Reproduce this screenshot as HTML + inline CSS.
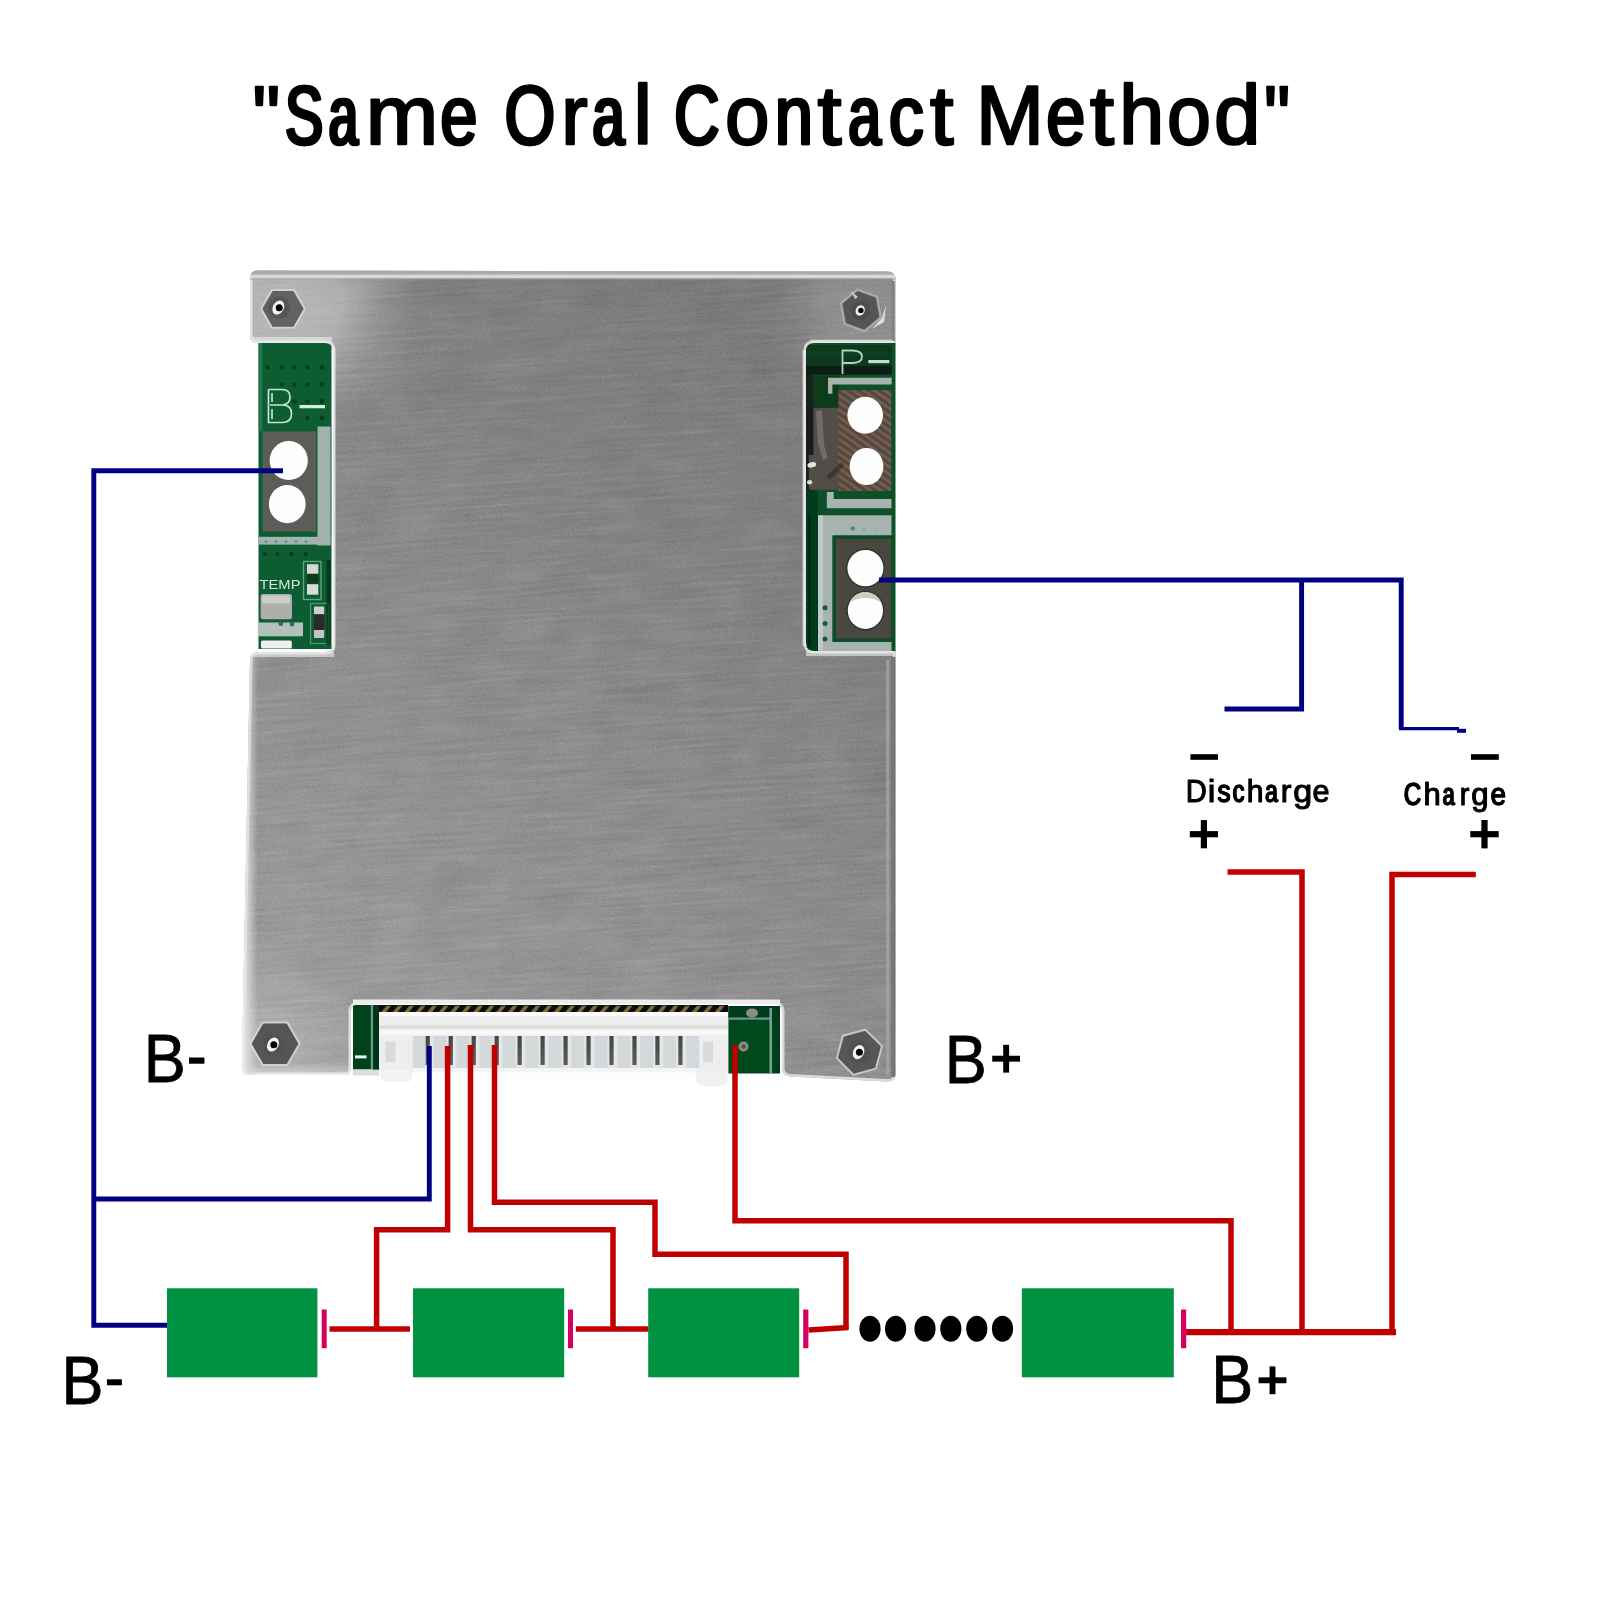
<!DOCTYPE html>
<html>
<head>
<meta charset="utf-8">
<title>Same Oral Contact Method</title>
<style>
html,body{margin:0;padding:0;background:#fff;}
body{width:1600px;height:1600px;overflow:hidden;font-family:"Liberation Sans",sans-serif;}
svg{display:block;position:absolute;left:0;top:0;}
text{font-family:"Liberation Sans",sans-serif;fill:#000;}
</style>
</head>
<body>
<svg width="1600" height="1600" viewBox="0 0 1600 1600">
<desc>"Same Oral Contact Method" wiring diagram: BMS board with B-, P-, B+, Discharge and Charge terminals, battery cells in series.</desc>
<defs>
  <linearGradient id="metalV" x1="0" y1="0" x2="0" y2="1">
    <stop offset="0" stop-color="#7d7d7d"/>
    <stop offset="1" stop-color="#9b9b9b"/>
  </linearGradient>
  <linearGradient id="botFade" x1="0" y1="0" x2="0" y2="1"><stop offset="0" stop-color="#fff" stop-opacity="0"/><stop offset="1" stop-color="#fff" stop-opacity="0.45"/></linearGradient>
  <linearGradient id="bevL" x1="0" y1="0" x2="1" y2="0"><stop offset="0" stop-color="#f4f4f4" stop-opacity="0.95"/><stop offset="0.45" stop-color="#e0e0e0" stop-opacity="0.7"/><stop offset="1" stop-color="#d0d0d0" stop-opacity="0"/></linearGradient>
  <radialGradient id="tabL" gradientUnits="userSpaceOnUse" cx="286" cy="304" r="135">
    <stop offset="0" stop-color="#fff" stop-opacity="0.42"/>
    <stop offset="0.4" stop-color="#fff" stop-opacity="0.36"/>
    <stop offset="0.75" stop-color="#fff" stop-opacity="0.10"/>
    <stop offset="1" stop-color="#fff" stop-opacity="0"/>
  </radialGradient>
  <radialGradient id="tabR" gradientUnits="userSpaceOnUse" cx="862" cy="306" r="100">
    <stop offset="0" stop-color="#fff" stop-opacity="0.20"/>
    <stop offset="0.4" stop-color="#fff" stop-opacity="0.16"/>
    <stop offset="0.75" stop-color="#fff" stop-opacity="0.05"/>
    <stop offset="1" stop-color="#fff" stop-opacity="0"/>
  </radialGradient>
  <radialGradient id="cornBL" gradientUnits="userSpaceOnUse" cx="262" cy="1050" r="110">
    <stop offset="0" stop-color="#fff" stop-opacity="0.26"/>
    <stop offset="0.5" stop-color="#fff" stop-opacity="0.12"/>
    <stop offset="1" stop-color="#fff" stop-opacity="0"/>
  </radialGradient>
  <linearGradient id="lowL" x1="0" y1="0" x2="1" y2="0">
    <stop offset="0" stop-color="#fff" stop-opacity="0.08"/>
    <stop offset="0.5" stop-color="#fff" stop-opacity="0"/>
    <stop offset="0.5" stop-color="#000" stop-opacity="0"/>
    <stop offset="1" stop-color="#000" stop-opacity="0.065"/>
  </linearGradient>
  <linearGradient id="metalH" x1="0" y1="0" x2="1" y2="0">
    <stop offset="0" stop-color="#fff" stop-opacity="0.12"/>
    <stop offset="0.35" stop-color="#fff" stop-opacity="0.03"/>
    <stop offset="0.7" stop-color="#000" stop-opacity="0.02"/>
    <stop offset="1" stop-color="#000" stop-opacity="0.05"/>
  </linearGradient>
  <filter id="brush" x="0" y="0" width="100%" height="100%">
    <feTurbulence type="fractalNoise" baseFrequency="0.012 0.3" numOctaves="3" seed="11" result="n"/>
    <feColorMatrix type="matrix" values="0 0 0 0 1  0 0 0 0 1  0 0 0 0 1  1.6 0 0 0 -0.55"/>
  </filter>
  <filter id="grain" x="0" y="0" width="100%" height="100%">
    <feTurbulence type="fractalNoise" baseFrequency="0.55 0.75" numOctaves="2" seed="5"/>
    <feColorMatrix type="matrix" values="0 0 0 0 1  0 0 0 0 1  0 0 0 0 1  2.2 0 0 0 -0.85"/>
  </filter>
  <filter id="grainD" x="0" y="0" width="100%" height="100%">
    <feTurbulence type="fractalNoise" baseFrequency="0.55 0.75" numOctaves="2" seed="9"/>
    <feColorMatrix type="matrix" values="0 0 0 0 0  0 0 0 0 0  0 0 0 0 0  2.2 0 0 0 -0.85"/>
  </filter>
  <filter id="mott" x="0" y="0" width="100%" height="100%">
    <feTurbulence type="fractalNoise" baseFrequency="0.02 0.035" numOctaves="2" seed="3"/>
    <feColorMatrix type="matrix" values="0 0 0 0 1  0 0 0 0 1  0 0 0 0 1  2.5 0 0 0 -1.0"/>
  </filter>
  <filter id="mottD" x="0" y="0" width="100%" height="100%">
    <feTurbulence type="fractalNoise" baseFrequency="0.02 0.035" numOctaves="2" seed="17"/>
    <feColorMatrix type="matrix" values="0 0 0 0 0  0 0 0 0 0  0 0 0 0 0  2.5 0 0 0 -1.0"/>
  </filter>
  <filter id="brushD" x="0" y="0" width="100%" height="100%">
    <feTurbulence type="fractalNoise" baseFrequency="0.012 0.3" numOctaves="3" seed="23" result="n"/>
    <feColorMatrix type="matrix" values="0 0 0 0 0  0 0 0 0 0  0 0 0 0 0  1.6 0 0 0 -0.55"/>
  </filter>
  <filter id="noop" x="0" y="0" width="1600" height="1600" filterUnits="userSpaceOnUse"><feGaussianBlur stdDeviation="0.55"/></filter>
  <filter id="soft" x="-2%" y="-2%" width="104%" height="104%"><feGaussianBlur stdDeviation="0.75"/></filter>
  <clipPath id="plateClip">
    <path id="platePath" d="M258,270.5 L887,271.5 Q895.5,271.5 895.5,279 L895.5,343 L814,343 Q806,343 806,351 L806,643 Q806,651 814,651 L895.5,651 L895.5,1074 Q895.5,1082 887,1081.5 L790,1076.5 Q782,1076 782,1068 L782,1012 Q782,1004 774,1004 L359,1004 Q351,1004 351,1012 L351,1069 Q351,1075 345,1075 L249,1075 Q241.5,1075 241.8,1067 L250,660 Q250,652 258,652 L325,652 Q333,652 333,644 L333,351 Q333,343 325,343 L258,343 Q250,343 250,335 L250,278.5 Q250,270.5 258,270.5 Z"/>
  </clipPath>
</defs>

<!-- ===== BOARD ===== -->
<g id="board" filter="url(#soft)">
  <!-- PCB under-layers -->
  <g id="pcbLeft">
    <rect x="258.5" y="343" width="73" height="306" fill="#0b5c30"/>
    <rect x="258.5" y="343" width="4" height="88" fill="#2a7a50" opacity="0.8"/>
    <!-- via dots -->
    <g fill="#05401f">
      <circle cx="267.5" cy="367.5" r="2.2"/><circle cx="281.5" cy="367.5" r="2.2"/><circle cx="294.5" cy="367.5" r="2.2"/><circle cx="307.5" cy="367.5" r="2.2"/><circle cx="322" cy="367.5" r="2.4"/>
      <circle cx="281.5" cy="384.5" r="2.2"/><circle cx="294.5" cy="384.5" r="2.2"/><circle cx="307.5" cy="384.5" r="2.2"/><circle cx="322" cy="384.5" r="2.4"/>
      <circle cx="294.5" cy="401.5" r="2.2"/><circle cx="307.5" cy="401.5" r="2.2"/><circle cx="322" cy="401.5" r="2.4"/>
      <circle cx="307.5" cy="418" r="2"/><circle cx="322" cy="418" r="2.4"/>
      <circle cx="264.7" cy="554" r="2"/><circle cx="277.4" cy="554" r="2"/><circle cx="291.2" cy="554" r="2.2"/><circle cx="305.6" cy="554" r="2.2"/>
    </g>
    <!-- silk B- -->
    <path d="M268.5,389.5 L268.5,422.5 L283,422.5 Q291.5,422 291.5,413.5 Q291.5,405.5 283,405 L270,405 M283,405 Q290,404 290,397 Q290,389.5 282,389.5 L268.5,389.5 M272,393 L272,402 M272,409 L272,419" fill="none" stroke="#c4e6d2" stroke-width="1.7"/>
    <rect x="299.5" y="405" width="25.5" height="3.3" fill="#d4ecdf"/>
    <!-- light traces -->
    <rect x="317.5" y="426.5" width="13" height="119" fill="#a2b2ad"/>
    <rect x="258.5" y="536.8" width="72" height="7.8" fill="#a2b2ad"/>
    <g fill="#5f9c8a"><circle cx="266" cy="541.5" r="1.6"/><circle cx="276" cy="541.5" r="1.6"/><circle cx="286" cy="541.5" r="1.6"/><circle cx="296" cy="541.5" r="1.6"/><circle cx="306" cy="541.5" r="1.6"/></g>
    <!-- pad -->
    <rect x="262.5" y="431.4" width="53.7" height="100.2" fill="#5c5d58"/>
    
    <ellipse cx="288.75" cy="460.6" rx="19.1" ry="19.5" fill="#fefefe"/>
    <ellipse cx="287.25" cy="504.1" rx="18.4" ry="19.1" fill="#fefefe"/>
    <!-- TEMP silk -->
    <text x="259.5" y="588.5" font-size="13.5" textLength="41" lengthAdjust="spacingAndGlyphs" style="fill:#cfe9dc">TEMP</text>
    <!-- smd 1 -->
    <rect x="303.5" y="561.5" width="17.5" height="38" fill="none" stroke="#5aa383" stroke-width="1.4"/>
    <rect x="307" y="564.2" width="11.3" height="9.5" fill="#d9d9d9"/>
    <rect x="307" y="574" width="11.3" height="9.5" fill="#0b3d1d"/>
    <rect x="307" y="584.2" width="11.3" height="10.5" fill="#dcdcdc"/>
    <!-- smd 2 -->
    <rect x="310.6" y="603.5" width="18" height="40" fill="none" stroke="#4f947a" stroke-width="1.4"/>
    <rect x="314" y="606.5" width="10.2" height="8" fill="#cfcfcf"/>
    <rect x="314" y="614.3" width="10.2" height="16" fill="#2a2a2a"/>
    <rect x="314" y="630" width="10.2" height="8" fill="#c4c4c4"/>
    <!-- right dark strip -->
    <rect x="326.5" y="560" width="4" height="85" fill="#032c14" opacity="0.7"/>
    <!-- silver pad -->
    <rect x="260.6" y="594" width="31.4" height="25.2" rx="2.5" fill="#aeaeac"/>
    <rect x="262" y="595.5" width="28" height="8" rx="2" fill="#d8d8d8" opacity="0.7"/>
    <!-- light trace lower -->
    <rect x="257.8" y="622.5" width="45.2" height="13.8" fill="#b2c1bc"/>
    <circle cx="280.8" cy="623.7" r="2.4" fill="#2f6b55"/><circle cx="292" cy="624" r="2.4" fill="#2f6b55"/>
    <rect x="261" y="640.6" width="30.8" height="8" rx="1.5" fill="#f0f0f0"/>
  </g>
  <g id="pcbRight">
    <defs>
      <pattern id="cuPat" width="6" height="6" patternUnits="userSpaceOnUse" patternTransform="rotate(35)">
        <rect width="6" height="6" fill="#7a6052"/>
        <rect width="6" height="3" fill="#52453d"/>
      </pattern>
    </defs>
    <rect x="806" y="343" width="89.5" height="309" fill="#075026"/>
    <!-- dark top band -->
    <rect x="806" y="345" width="85.5" height="30" fill="#0a381d"/>
    <rect x="806" y="352" width="85.5" height="5" fill="#0c4423" opacity="0.8"/>
    <rect x="806" y="366" width="85.5" height="8.5" fill="#0a1813" opacity="0.9"/>
    <rect x="812" y="375.5" width="27" height="33" fill="#0a3a1e"/>
    <rect x="806" y="375" width="7" height="116" fill="#13201a"/>
    <!-- silk P- -->
    <path d="M842.5,349.5 L842.5,374 M842.5,350.5 L853,350.5 Q862,351 862,356.8 Q862,362.6 853,363 L843,363" fill="none" stroke="#a9d8c0" stroke-width="1.8"/>
    <rect x="868.3" y="360" width="21" height="3.2" fill="#c2ddd0"/>
    <!-- silver L 1 -->
    <path d="M828,377.8 L891.7,377.8 L891.7,384.4 L832.4,384.4 L832.4,393.8 L828,393.8 Z" fill="#a6b3af"/>
    <!-- copper pad -->
    <rect x="808.8" y="407.8" width="31" height="82" fill="#524e47"/><rect x="807.5" y="405" width="6" height="50" fill="#1c1c1a"/>
    <rect x="838.4" y="390.1" width="52.9" height="100.9" fill="url(#cuPat)"/>
    <rect x="838.4" y="390.1" width="52.9" height="100.9" fill="#5a4a40" opacity="0.25"/>
    <path d="M816,411 L822,410 L824,445 L828,458 L823,460 L818,444 Z" fill="#8c8c88" opacity="0.5"/>
    <ellipse cx="811.8" cy="464.8" rx="4.5" ry="2.6" fill="#e2e2de" transform="rotate(-15 811.8 464.8)"/><ellipse cx="809.6" cy="482.3" rx="2.6" ry="2.2" fill="#deded9"/>
    <path d="M826,476 L842,462 L844,466 L830,480 Z" fill="#2c2824" opacity="0.6"/>
    <ellipse cx="865.2" cy="415.25" rx="17.8" ry="18.4" fill="#fefefe"/>
    <ellipse cx="866.5" cy="466.5" rx="16.9" ry="18.6" fill="#fefefe"/>
    <!-- silver bar 2 -->
    <path d="M826.8,492 L833.7,492 L833.7,499 L891.5,499 L891.5,508.3 L826.8,508.3 Z" fill="#a6b3af"/>
    <!-- left dark strip -->
    <rect x="806" y="491" width="12" height="160" fill="#063a1c"/>
    <rect x="808.5" y="515" width="2" height="132" fill="#021a0b" opacity="0.8"/>
    <!-- silver L big -->
    <path d="M818,515.3 L891.5,515.3 L891.5,535.5 L832.6,535.5 L832.6,641.8 L891.5,641.8 L891.5,651 L818,651 Z" fill="#a6b3af"/>
    <rect x="818" y="515.3" width="5" height="135" fill="#cfdad8" opacity="0.6"/>
    <g fill="#1f5546"><circle cx="825" cy="607.7" r="2.5"/><circle cx="825" cy="623.4" r="2.5"/><circle cx="825" cy="639" r="2.5"/><circle cx="852.8" cy="528.3" r="2.1" fill="#3f8d76"/></g>
    <circle cx="864" cy="530" r="1.4" fill="#7fa79b"/><circle cx="876" cy="530" r="1.4" fill="#8fb3a8"/>
    <!-- pad 2 -->
    <rect x="832.6" y="535.5" width="59" height="106.3" fill="#074d27"/>
    <rect x="836" y="539" width="55.2" height="99.5" fill="#494740"/>
    <ellipse cx="865.4" cy="568.1" rx="19.4" ry="19.6" fill="#33312b"/>
    <ellipse cx="865.4" cy="610.6" rx="19" ry="19.8" fill="#33312b"/>
    <ellipse cx="865.4" cy="568.1" rx="18" ry="18.2" fill="#fefefe"/>
    <ellipse cx="865.4" cy="610.6" rx="17.6" ry="18.4" fill="#fefefe"/>
    <path d="M849.5,602.5 A17.6,18.4 0 0 1 881.3,602.5 A21,13 0 0 0 849.5,602.5 Z" fill="#cfccc6"/>
  </g>
  <g id="pcbBottom">
    <rect x="351" y="1003" width="431" height="74" fill="#fdfdfd"/>
    <rect x="353" y="1005" width="26" height="64.5" fill="#06431f"/><rect x="353" y="1069.5" width="26" height="6" fill="#dcdcdc"/>
    <rect x="370.8" y="1005" width="2.4" height="64.5" fill="#6a9a8a"/>
    <rect x="373.2" y="1005" width="6" height="64.5" fill="#053519"/>
    <rect x="355" y="1055.4" width="11.6" height="3" fill="#e6f2ea"/>
    <rect x="728.4" y="1006" width="51.5" height="67.5" fill="#06481f"/>
    <rect x="728.4" y="1006" width="51.5" height="12" fill="#053a1a"/>
    <rect x="728.4" y="1017.5" width="42" height="2.2" fill="#6a9a8a"/>
    <rect x="769.5" y="1008" width="2.4" height="65" fill="#7aa896"/>
    <rect x="773" y="1008" width="7" height="65" fill="#053a1a"/>
    <circle cx="743.5" cy="1046.5" r="5" fill="#8b8f88"/><circle cx="743.5" cy="1046.5" r="2.2" fill="#4f524c"/>
    <ellipse cx="752" cy="1013" rx="6" ry="4.5" fill="#8a8d86"/>
  </g>
  <g id="connectorBody">
    <defs><linearGradient id="slotG" x1="0" y1="0" x2="0" y2="1"><stop offset="0" stop-color="#454543"/><stop offset="1" stop-color="#5c5c5a"/></linearGradient></defs>
    <rect x="379" y="1005" width="349" height="8" fill="#0f0c07"/>
    <path d="M381.0,1012.3 l5.5,-6.5 l4.5,0 l-5,6.5 Z" fill="#7a6a40"/><path d="M392.5,1012.3 l5.5,-6.5 l4.5,0 l-5,6.5 Z" fill="#7a6a40"/><path d="M404.0,1012.3 l5.5,-6.5 l4.5,0 l-5,6.5 Z" fill="#7a6a40"/><path d="M415.5,1012.3 l5.5,-6.5 l4.5,0 l-5,6.5 Z" fill="#7a6a40"/><path d="M427.0,1012.3 l5.5,-6.5 l4.5,0 l-5,6.5 Z" fill="#7a6a40"/><path d="M438.5,1012.3 l5.5,-6.5 l4.5,0 l-5,6.5 Z" fill="#7a6a40"/><path d="M450.0,1012.3 l5.5,-6.5 l4.5,0 l-5,6.5 Z" fill="#7a6a40"/><path d="M461.5,1012.3 l5.5,-6.5 l4.5,0 l-5,6.5 Z" fill="#7a6a40"/><path d="M473.0,1012.3 l5.5,-6.5 l4.5,0 l-5,6.5 Z" fill="#7a6a40"/><path d="M484.5,1012.3 l5.5,-6.5 l4.5,0 l-5,6.5 Z" fill="#7a6a40"/><path d="M496.0,1012.3 l5.5,-6.5 l4.5,0 l-5,6.5 Z" fill="#7a6a40"/><path d="M507.5,1012.3 l5.5,-6.5 l4.5,0 l-5,6.5 Z" fill="#7a6a40"/><path d="M519.0,1012.3 l5.5,-6.5 l4.5,0 l-5,6.5 Z" fill="#7a6a40"/><path d="M530.5,1012.3 l5.5,-6.5 l4.5,0 l-5,6.5 Z" fill="#7a6a40"/><path d="M542.0,1012.3 l5.5,-6.5 l4.5,0 l-5,6.5 Z" fill="#7a6a40"/><path d="M553.5,1012.3 l5.5,-6.5 l4.5,0 l-5,6.5 Z" fill="#7a6a40"/><path d="M565.0,1012.3 l5.5,-6.5 l4.5,0 l-5,6.5 Z" fill="#7a6a40"/><path d="M576.5,1012.3 l5.5,-6.5 l4.5,0 l-5,6.5 Z" fill="#7a6a40"/><path d="M588.0,1012.3 l5.5,-6.5 l4.5,0 l-5,6.5 Z" fill="#7a6a40"/><path d="M599.5,1012.3 l5.5,-6.5 l4.5,0 l-5,6.5 Z" fill="#7a6a40"/><path d="M611.0,1012.3 l5.5,-6.5 l4.5,0 l-5,6.5 Z" fill="#7a6a40"/><path d="M622.5,1012.3 l5.5,-6.5 l4.5,0 l-5,6.5 Z" fill="#7a6a40"/><path d="M634.0,1012.3 l5.5,-6.5 l4.5,0 l-5,6.5 Z" fill="#7a6a40"/><path d="M645.5,1012.3 l5.5,-6.5 l4.5,0 l-5,6.5 Z" fill="#7a6a40"/><path d="M657.0,1012.3 l5.5,-6.5 l4.5,0 l-5,6.5 Z" fill="#7a6a40"/><path d="M668.5,1012.3 l5.5,-6.5 l4.5,0 l-5,6.5 Z" fill="#7a6a40"/><path d="M680.0,1012.3 l5.5,-6.5 l4.5,0 l-5,6.5 Z" fill="#7a6a40"/><path d="M691.5,1012.3 l5.5,-6.5 l4.5,0 l-5,6.5 Z" fill="#7a6a40"/><path d="M703.0,1012.3 l5.5,-6.5 l4.5,0 l-5,6.5 Z" fill="#7a6a40"/><path d="M714.5,1012.3 l5.5,-6.5 l4.5,0 l-5,6.5 Z" fill="#7a6a40"/>
    <rect x="379" y="1013" width="349" height="58" fill="#eeeef0"/>
    <rect x="379" y="1012" width="349" height="4" fill="#fbfbfb"/>
    <rect x="379" y="1025.5" width="349" height="3" fill="#dedcd3"/>
    <rect x="379" y="1030" width="349" height="5" fill="#f8f8f8"/>
    <rect x="412" y="1036" width="283" height="35" fill="#e4e6e7"/>
    <rect x="413.3" y="1036" width="11.5" height="32" fill="#d3d8da"/><rect x="433.55" y="1036" width="13" height="32" fill="#d3d8da"/><rect x="456.52" y="1036" width="13" height="32" fill="#d3d8da"/><rect x="479.49" y="1036" width="13" height="32" fill="#d3d8da"/><rect x="502.46" y="1036" width="13" height="32" fill="#d3d8da"/><rect x="525.43" y="1036" width="13" height="32" fill="#d3d8da"/><rect x="548.40" y="1036" width="13" height="32" fill="#d3d8da"/><rect x="571.37" y="1036" width="13" height="32" fill="#d3d8da"/><rect x="594.34" y="1036" width="13" height="32" fill="#d3d8da"/><rect x="617.31" y="1036" width="13" height="32" fill="#d3d8da"/><rect x="640.28" y="1036" width="13" height="32" fill="#d3d8da"/><rect x="663.25" y="1036" width="13" height="32" fill="#d3d8da"/><rect x="686.22" y="1036" width="13" height="32" fill="#d3d8da"/>
    <rect x="425.65" y="1036" width="4.2" height="29" fill="url(#slotG)"/><rect x="448.62" y="1036" width="4.2" height="29" fill="url(#slotG)"/><rect x="471.59" y="1036" width="4.2" height="29" fill="url(#slotG)"/><rect x="494.56" y="1036" width="4.2" height="29" fill="url(#slotG)"/><rect x="517.53" y="1036" width="4.2" height="29" fill="url(#slotG)"/><rect x="540.50" y="1036" width="4.2" height="29" fill="url(#slotG)"/><rect x="563.47" y="1036" width="4.2" height="29" fill="url(#slotG)"/><rect x="586.44" y="1036" width="4.2" height="29" fill="url(#slotG)"/><rect x="609.41" y="1036" width="4.2" height="29" fill="url(#slotG)"/><rect x="632.38" y="1036" width="4.2" height="29" fill="url(#slotG)"/><rect x="655.35" y="1036" width="4.2" height="29" fill="url(#slotG)"/><rect x="678.32" y="1036" width="4.2" height="29" fill="url(#slotG)"/>
    <rect x="385.3" y="1041.7" width="10" height="20.3" fill="#dadada"/>
    <rect x="703" y="1041.7" width="10" height="20.3" fill="#dadada"/>
    <path d="M379,1070 L413,1070 L411,1081 Q395,1084 381,1080 Z" fill="#f3f3f3"/>
    <path d="M695,1070 L728,1070 L727,1084 Q710,1090 697,1083 Z" fill="#f0f0f0"/>
    <rect x="413" y="1068" width="282" height="4" fill="#f4f4f4"/>
  </g>
  <!-- plate -->
  <g id="plate">
    <use href="#platePath" fill="url(#metalV)"/>
    <g clip-path="url(#plateClip)">
      <rect x="240" y="265" width="660" height="830" fill="url(#lowL)"/>
      <g transform="rotate(-4 570 670)">
        <rect x="200" y="220" width="760" height="920" filter="url(#brush)" opacity="0.09"/>
        <rect x="200" y="220" width="760" height="920" filter="url(#brushD)" opacity="0.07"/>
        <rect x="200" y="220" width="760" height="920" filter="url(#grain)" opacity="0.10"/>
        <rect x="200" y="220" width="760" height="920" filter="url(#grainD)" opacity="0.08"/>
        <rect x="200" y="220" width="760" height="920" filter="url(#mott)" opacity="0.035"/>
        <rect x="200" y="220" width="760" height="920" filter="url(#mottD)" opacity="0.03"/>
      </g>
      <!-- extra highlights -->
      <path d="M351,1012 Q351,1004 359,1004 L774,1004 Q782,1004 782,1012 L782,1009.5 L351,1009.5 Z" fill="#f8f8f8"/>
      <rect x="353" y="999.5" width="427" height="5.5" fill="#f6f6f6" opacity="0.9"/>
      <rect x="240" y="265" width="200" height="190" fill="url(#tabL)"/><rect x="240" y="930" width="200" height="160" fill="url(#cornBL)"/>
      <rect x="720" y="265" width="180" height="180" fill="url(#tabR)"/>
      
      <rect x="252" y="337" width="80" height="6" fill="#eeeeee" opacity="0.6"/>
      <rect x="810" y="339.6" width="84" height="3.6" fill="#eeeeee" opacity="0.6"/>
      <rect x="250" y="652" width="84" height="5" fill="#efefef" opacity="0.6"/>
      <rect x="806" y="651" width="89" height="5" fill="#efefef" opacity="0.6"/>
      <rect x="329" y="346" width="5.5" height="304" fill="#f2f2f2" opacity="0.7"/>
      <rect x="802.5" y="350" width="4.5" height="296" fill="#e8e8e8" opacity="0.7"/>
      <!-- bevel highlights -->
      <use href="#platePath" fill="none" stroke="#ececec" stroke-width="5" opacity="0.8"/>
      <rect x="250" y="269" width="646" height="6" fill="#a9aba7"/><rect x="250" y="274.6" width="646" height="3.8" fill="#d8d8d8"/><rect x="250" y="278.2" width="646" height="1.5" fill="#a0a0a0" opacity="0.6"/>
      
      <rect x="241" y="1062" width="112" height="14" fill="url(#botFade)"/>
      <rect x="892.6" y="281" width="2.2" height="60" fill="#5c5c5c" opacity="0.7"/>
      <!-- left lower bevel band -->
      <path d="M249,656 L241,1076 L257,1076 L258,656 Z" fill="url(#bevL)"/>
      <rect x="886.2" y="660" width="3" height="415" fill="#a6a6a6" opacity="0.8"/>
      <rect x="891.3" y="657" width="4.5" height="420" fill="#727873"/>
    </g>
  </g>
  <g id="screws"><g>
      <polygon points="305.1,308.8 294.1,327.9 271.9,327.9 260.9,308.8 271.9,289.7 294.1,289.7" fill="#cfcfcf" opacity="0.7" stroke="#e2e2e2" stroke-width="1.4" stroke-linejoin="round"/>
      <polygon points="302.5,308.8 292.8,325.7 273.2,325.7 263.5,308.8 273.2,291.9 292.8,291.9" fill="#626262" stroke="#626262" stroke-width="2" stroke-linejoin="round"/>
      <circle cx="279.2" cy="307.7" r="11" fill="#4e4e4e" opacity="0.55"/>
      <ellipse cx="278.4" cy="308.0" rx="5.4" ry="7.4" fill="#f4f4f4" transform="rotate(30 279.2 307.7)"/>
      <circle cx="279.2" cy="307.7" r="3.5" fill="#030303"/>
    </g><g>
      <polygon points="877.4,296.6 881.1,317.8 864.6,331.6 844.4,324.2 840.7,303.0 857.2,289.2" fill="#a8a8a8" opacity="0.6" stroke="#c8c8c8" stroke-width="1.2" stroke-linejoin="round"/>
      <polygon points="874.8,298.7 878.0,316.6 864.1,328.3 847.0,322.1 843.8,304.2 857.7,292.5" fill="#555555" stroke="#555555" stroke-width="2.5" stroke-linejoin="round"/>
      <path d="M872,329 L884,322 L886,305 L882,318 Z" fill="#f0f0f0" opacity="0.85"/>
      <path d="M851,291 L858,297 L855,299 Z" fill="#e6e6e6" opacity="0.8"/>
      <circle cx="860.9" cy="310.4" r="9.5" fill="#474747" opacity="0.6"/>
      <ellipse cx="860.3" cy="310.79999999999995" rx="4.4" ry="5.4" fill="#f2f2f2" transform="rotate(30 860.9 310.4)"/>
      <circle cx="860.9" cy="310.4" r="2.7" fill="#030303"/>
    </g><g>
      <polygon points="299.8,1043.7 287.4,1065.2 262.6,1065.2 250.2,1043.7 262.6,1022.2 287.4,1022.2" fill="#cfcfcf" opacity="0.7" stroke="#e2e2e2" stroke-width="1.4" stroke-linejoin="round"/>
      <polygon points="297.2,1043.7 286.1,1062.9 263.9,1062.9 252.8,1043.7 263.9,1024.5 286.1,1024.5" fill="#555555" stroke="#555555" stroke-width="2" stroke-linejoin="round"/>
      <circle cx="273.8" cy="1044.7" r="11" fill="#4e4e4e" opacity="0.55"/>
      <ellipse cx="273.0" cy="1045.0" rx="5.4" ry="7.4" fill="#f4f4f4" transform="rotate(30 273.8 1044.7)"/>
      <circle cx="273.8" cy="1044.7" r="3.5" fill="#030303"/>
    </g><g>
      <polygon points="865.5,1029.4 882.2,1046.1 876.1,1068.9 853.3,1075.0 836.6,1058.3 842.7,1035.5" fill="#cfcfcf" opacity="0.7" stroke="#e2e2e2" stroke-width="1.4" stroke-linejoin="round"/>
      <polygon points="864.8,1031.9 879.7,1046.8 874.2,1067.0 854.0,1072.5 839.1,1057.6 844.6,1037.4" fill="#565656" stroke="#565656" stroke-width="2" stroke-linejoin="round"/>
      <circle cx="859.4" cy="1052.2" r="11" fill="#4e4e4e" opacity="0.55"/>
      <ellipse cx="858.6" cy="1052.5" rx="5.4" ry="7.4" fill="#f4f4f4" transform="rotate(25 859.4 1052.2)"/>
      <circle cx="859.4" cy="1052.2" r="3.5" fill="#030303"/>
    </g></g>
  <g id="connector"></g>
</g>

<!-- ===== WIRES ===== -->
<g id="wires" filter="url(#noop)" fill="none" stroke-width="5" stroke-linecap="butt" stroke-linejoin="miter">
  <g stroke="#000080" stroke-width="4.9">
    <path d="M283,470.8 L93.8,470.8 L93.8,1325.3 L167,1325.3"/>
    <path d="M93.8,1199 L429.3,1199 L429.3,1046"/>
    <path d="M879,580 L1401.2,580 L1401.2,729"/>
    <path d="M1301.6,580 L1301.6,709 L1224.5,709"/>
    <path d="M1399,728.6 L1459,728.6" stroke-width="3.4"/>
    <path d="M1457,730.8 L1466,730.8" stroke-width="4"/>
  </g>
  <g stroke="#c00000" stroke-width="5.5">
    <path d="M447.6,1046 L447.6,1229.7 L376.6,1229.7 L376.6,1329"/>
    <path d="M329.5,1329 L410,1329"/>
    <path d="M470.5,1045 L470.5,1229.7 L613,1229.7 L613,1329"/>
    <path d="M575.8,1329 L648.5,1329"/>
    <path d="M494.5,1045 L494.5,1202.3 L655,1202.3 L655,1254.3 L846,1254.3 L846,1329"/>
    <path d="M808.5,1330 L848.5,1327.5"/>
    <path d="M735,1045 L735,1220.7 L1231,1220.7 L1231,1334.5"/>
    <path d="M1186,1332.1 L1396,1332.1" stroke-width="6.2"/>
    <path d="M1227.5,872 L1302,872 L1302,1332"/>
    <path d="M1475.8,874.6 L1392,874.6 L1392,1334.5"/>
  </g>
</g>

<!-- ===== CELLS ===== -->
<g id="cells" filter="url(#noop)">
  <g fill="#009241">
    <rect x="167" y="1288.3" width="150.4" height="89"/>
    <rect x="413" y="1288.3" width="151.2" height="89"/>
    <rect x="648.2" y="1288.3" width="151" height="89"/>
    <rect x="1021.8" y="1288.3" width="152" height="89"/>
  </g>
  <g fill="#d5005f">
    <rect x="321.7" y="1309.5" width="5" height="38.7"/>
    <rect x="568" y="1309.5" width="5" height="38.7"/>
    <rect x="803.2" y="1309.5" width="5.2" height="38.7"/>
    <rect x="1181" y="1309.5" width="5.2" height="38.7"/>
  </g>
  <g fill="#000">
    <ellipse cx="870" cy="1328.8" rx="10.6" ry="13"/>
    <ellipse cx="895.6" cy="1328.8" rx="10.6" ry="13"/>
    <ellipse cx="925" cy="1328.8" rx="10.6" ry="13"/>
    <ellipse cx="950.8" cy="1328.8" rx="10.6" ry="13"/>
    <ellipse cx="976.8" cy="1328.8" rx="10.6" ry="13"/>
    <ellipse cx="1002.5" cy="1328.8" rx="10.6" ry="13"/>
  </g>
</g>

<!-- ===== TEXT ===== -->
<g id="labels" filter="url(#noop)">
  <g id="title" font-size="83" stroke="#000" stroke-width="2.4" stroke-linejoin="round">
    <text transform="translate(252.62,144) scale(0.9400,1)">&quot;</text>
    <text transform="translate(284.19,144) scale(0.6875,1)">S</text>
    <text transform="translate(286.06,144) scale(0.6875,1)">S</text>
    <text transform="translate(327.74,144) scale(0.6282,1)">a</text>
    <text transform="translate(329.97,144) scale(0.6282,1)">a</text>
    <text transform="translate(365.80,144) scale(1.0492,1)">m</text>
    <text transform="translate(439.64,144) scale(0.8056,1)">e</text>
    <text transform="translate(440.81,144) scale(0.8056,1)">e</text>
    <text transform="translate(503.90,144) scale(0.7830,1)">O</text>
    <text transform="translate(505.20,144) scale(0.7830,1)">O</text>
    <text transform="translate(561.17,144) scale(0.9565,1)">r</text>
    <text transform="translate(591.62,144) scale(0.6923,1)">a</text>
    <text transform="translate(593.46,144) scale(0.6923,1)">a</text>
    <text transform="translate(633.50,144) scale(1.0000,1)">l</text>
    <text transform="translate(673.48,144) scale(0.7551,1)">C</text>
    <text transform="translate(674.95,144) scale(0.7551,1)">C</text>
    <text transform="translate(725.07,144) scale(0.9643,1)">o</text>
    <text transform="translate(774.19,144) scale(0.8281,1)">n</text>
    <text transform="translate(775.22,144) scale(0.8281,1)">n</text>
    <text transform="translate(817.50,144) scale(1.0417,1)">t</text>
    <text transform="translate(847.59,144) scale(0.7051,1)">a</text>
    <text transform="translate(849.36,144) scale(0.7051,1)">a</text>
    <text transform="translate(888.31,144) scale(0.8438,1)">c</text>
    <text transform="translate(889.25,144) scale(0.8438,1)">c</text>
    <text transform="translate(930.00,144) scale(1.0208,1)">t</text>
    <text transform="translate(976.10,144) scale(0.9828,1)">M</text>
    <text transform="translate(1045.81,144) scale(0.8472,1)">e</text>
    <text transform="translate(1046.72,144) scale(0.8472,1)">e</text>
    <text transform="translate(1090.00,144) scale(1.0417,1)">t</text>
    <text transform="translate(1119.14,144) scale(0.9730,1)">h</text>
    <text transform="translate(1167.10,144) scale(0.9524,1)">o</text>
    <text transform="translate(1213.99,144) scale(1.0063,1)">d</text>
    <text transform="translate(1263.97,144) scale(0.8900,1)">&quot;</text>
  </g>
  <text transform="translate(143.69,1082.3) scale(0.955,1.035)" font-size="66" stroke="#000" stroke-width="0.8">B</text>
  <rect x="189" y="1057.5" width="15.4" height="6.2"/>
  <text transform="translate(944.84,1082.5) scale(0.955,1.035)" font-size="66" stroke="#000" stroke-width="0.8">B</text>
  <rect x="992.25" y="1055.75" width="27.8" height="5.9"/><rect x="1003.20" y="1044.80" width="5.9" height="27.8"/>
  <text transform="translate(61.54,1403.5) scale(0.955,1.035)" font-size="66" stroke="#000" stroke-width="0.8">B</text>
  <rect x="106.9" y="1379.3" width="15" height="6"/>
  <text transform="translate(1211.19,1403.3) scale(0.955,1.035)" font-size="66" stroke="#000" stroke-width="0.8">B</text>
  <rect x="1258.60" y="1377.35" width="27.8" height="5.9"/><rect x="1269.55" y="1366.40" width="5.9" height="27.8"/>
  <g id="dischg" font-size="31.2" stroke="#000" stroke-width="1.1" stroke-linejoin="round">
    <text transform="translate(1185.63,801.7) scale(0.9337,1)">D</text>
    <text transform="translate(1207.85,801.7) scale(1.1026,1)">i</text>
    <text transform="translate(1217.25,801.7) scale(0.8376,1)">s</text>
    <text transform="translate(1217.74,801.7) scale(0.8376,1)">s</text>
    <text transform="translate(1232.29,801.7) scale(0.7565,1)">c</text>
    <text transform="translate(1233.03,801.7) scale(0.7565,1)">c</text>
    <text transform="translate(1246.76,801.7) scale(0.9650,1)">h</text>
    <text transform="translate(1264.72,801.7) scale(0.7305,1)">a</text>
    <text transform="translate(1265.52,801.7) scale(0.7305,1)">a</text>
    <text transform="translate(1280.77,801.7) scale(1.0225,1)">r</text>
    <text transform="translate(1293.13,801.7) scale(1.0927,1)">g</text>
    <text transform="translate(1312.42,801.7) scale(0.9809,1)">e</text>
    <text transform="translate(1403.43,805.0) scale(0.7654,1)">C</text>
    <text transform="translate(1404.14,805.0) scale(0.7654,1)">C</text>
    <text transform="translate(1423.41,805.0) scale(0.9930,1)">h</text>
    <text transform="translate(1442.26,805.0) scale(0.6809,1)">a</text>
    <text transform="translate(1443.21,805.0) scale(0.6809,1)">a</text>
    <text transform="translate(1459.72,805.0) scale(0.9213,1)">r</text>
    <text transform="translate(1471.30,805.0) scale(1.0000,1)">g</text>
    <text transform="translate(1490.49,805.0) scale(0.8819,1)">e</text>
    <text transform="translate(1490.85,805.0) scale(0.8819,1)">e</text>
  </g>
  <rect x="1190.4" y="754.2" width="27.6" height="5.6"/>
  <rect x="1471" y="754.2" width="27.8" height="5.6"/>
  <rect x="1189.80" y="831.10" width="28.2" height="6.2"/><rect x="1200.80" y="820.10" width="6.2" height="28.2"/>
  <rect x="1470.30" y="831.10" width="28.4" height="6.2"/><rect x="1481.40" y="820.00" width="6.2" height="28.4"/>
</g>
</svg>
</body>
</html>
